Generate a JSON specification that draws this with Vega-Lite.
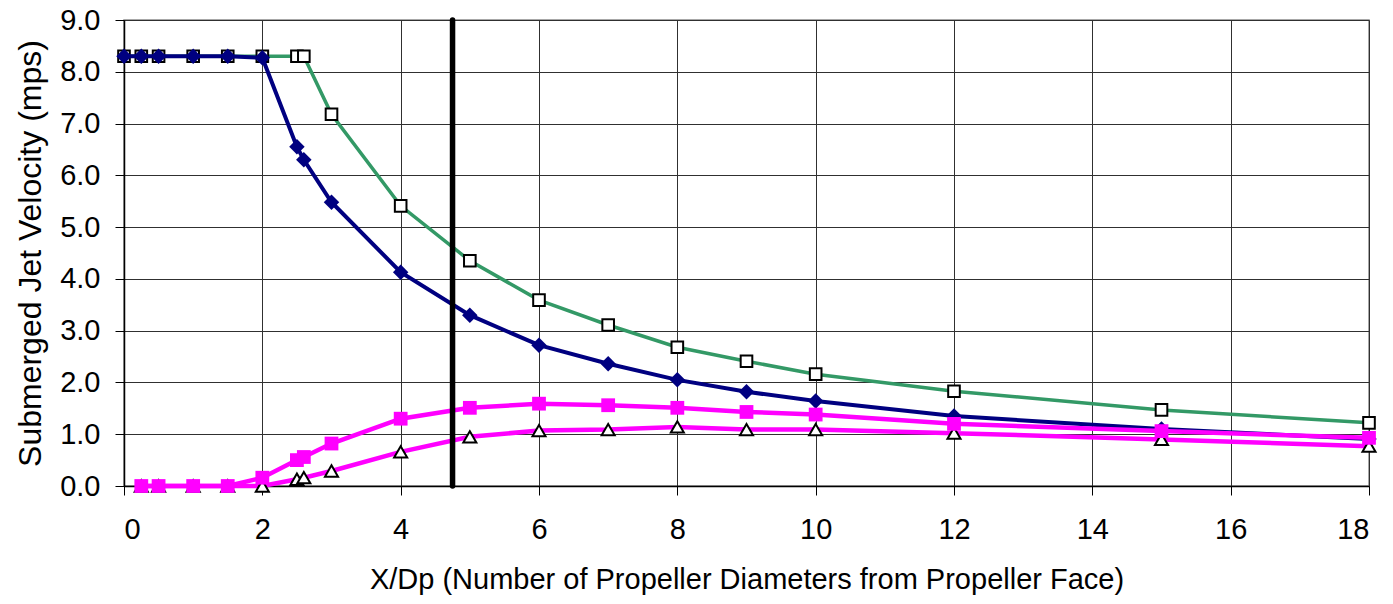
{
  "$schema": "https://vega.github.io/schema/vega-lite/v6.json",
  "width": 1245,
  "height": 466,
  "autosize": {"type": "none"},
  "padding": {"left": 124, "top": 20, "right": 24, "bottom": 118},
  "background": "white",
  "config": {
    "view": {"stroke": "#8a8a8a", "strokeWidth": 1.5},
    "font": "Liberation Sans",
    "axis": {
      "labelFont": "Liberation Sans",
      "titleFont": "Liberation Sans",
      "labelFontSize": 29,
      "titleFontSize": 29,
      "labelColor": "#000",
      "titleColor": "#000",
      "titleFontWeight": "normal",
      "domainColor": "#000",
      "domainWidth": 1.5,
      "tickColor": "#000",
      "tickWidth": 1,
      "tickSize": 9,
      "gridColor": "#303030",
      "gridWidth": 1
    }
  },
  "datasets": {
    "d": [
      {"x": 0, "y": 8.3, "s": "G"}, {"x": 0.25, "y": 8.3, "s": "G"}, {"x": 0.5, "y": 8.3, "s": "G"}, {"x": 1, "y": 8.3, "s": "G"}, {"x": 1.5, "y": 8.3, "s": "G"}, {"x": 2, "y": 8.3, "s": "G"}, {"x": 2.5, "y": 8.3, "s": "G"}, {"x": 2.6, "y": 8.3, "s": "G"}, {"x": 3, "y": 7.18, "s": "G"}, {"x": 4, "y": 5.41, "s": "G"}, {"x": 5, "y": 4.35, "s": "G"}, {"x": 6, "y": 3.59, "s": "G"}, {"x": 7, "y": 3.11, "s": "G"}, {"x": 8, "y": 2.68, "s": "G"}, {"x": 9, "y": 2.41, "s": "G"}, {"x": 10, "y": 2.16, "s": "G"}, {"x": 12, "y": 1.83, "s": "G"}, {"x": 15, "y": 1.47, "s": "G"}, {"x": 18, "y": 1.22, "s": "G"},
      {"x": 0, "y": 8.3, "s": "B"}, {"x": 0.25, "y": 8.3, "s": "B"}, {"x": 0.5, "y": 8.3, "s": "B"}, {"x": 1, "y": 8.3, "s": "B"}, {"x": 1.5, "y": 8.3, "s": "B"}, {"x": 2, "y": 8.27, "s": "B"}, {"x": 2.5, "y": 6.55, "s": "B"}, {"x": 2.6, "y": 6.3, "s": "B"}, {"x": 3, "y": 5.48, "s": "B"}, {"x": 4, "y": 4.13, "s": "B"}, {"x": 5, "y": 3.3, "s": "B"}, {"x": 6, "y": 2.72, "s": "B"}, {"x": 7, "y": 2.36, "s": "B"}, {"x": 8, "y": 2.05, "s": "B"}, {"x": 9, "y": 1.82, "s": "B"}, {"x": 10, "y": 1.64, "s": "B"}, {"x": 12, "y": 1.35, "s": "B"}, {"x": 15, "y": 1.1, "s": "B"}, {"x": 18, "y": 0.91, "s": "B"},
      {"x": 0.25, "y": 0, "s": "T"}, {"x": 0.5, "y": 0, "s": "T"}, {"x": 1, "y": 0, "s": "T"}, {"x": 1.5, "y": 0, "s": "T"}, {"x": 2, "y": 0, "s": "T"}, {"x": 2.5, "y": 0.13, "s": "T"}, {"x": 2.6, "y": 0.16, "s": "T"}, {"x": 3, "y": 0.29, "s": "T"}, {"x": 4, "y": 0.66, "s": "T"}, {"x": 5, "y": 0.95, "s": "T"}, {"x": 6, "y": 1.07, "s": "T"}, {"x": 7, "y": 1.09, "s": "T"}, {"x": 8, "y": 1.14, "s": "T"}, {"x": 9, "y": 1.09, "s": "T"}, {"x": 10, "y": 1.09, "s": "T"}, {"x": 12, "y": 1.02, "s": "T"}, {"x": 15, "y": 0.9, "s": "T"}, {"x": 18, "y": 0.77, "s": "T"},
      {"x": 0.25, "y": 0, "s": "M"}, {"x": 0.5, "y": 0, "s": "M"}, {"x": 1, "y": 0, "s": "M"}, {"x": 1.5, "y": 0, "s": "M"}, {"x": 2, "y": 0.16, "s": "M"}, {"x": 2.5, "y": 0.5, "s": "M"}, {"x": 2.6, "y": 0.56, "s": "M"}, {"x": 3, "y": 0.82, "s": "M"}, {"x": 4, "y": 1.3, "s": "M"}, {"x": 5, "y": 1.51, "s": "M"}, {"x": 6, "y": 1.59, "s": "M"}, {"x": 7, "y": 1.56, "s": "M"}, {"x": 8, "y": 1.51, "s": "M"}, {"x": 9, "y": 1.43, "s": "M"}, {"x": 10, "y": 1.38, "s": "M"}, {"x": 12, "y": 1.2, "s": "M"}, {"x": 15, "y": 1.06, "s": "M"}, {"x": 18, "y": 0.93, "s": "M"}
    ],
    "r": [{"x": 4.75, "y": 0, "y2": 9}]
  },
  "data": {"name": "d"},
  "encoding": {
    "x": {
      "field": "x", "type": "quantitative",
      "scale": {"domain": [0, 18], "nice": false, "zero": false},
      "axis": {"values": [0, 2, 4, 6, 8, 10, 12, 14, 16, 18], "grid": true, "labelPadding": 20, "titlePadding": 21, "title": "X/Dp (Number of Propeller Diameters from Propeller Face)"}
    },
    "y": {
      "field": "y", "type": "quantitative",
      "scale": {"domain": [0, 9], "nice": false},
      "axis": {"values": [0, 1, 2, 3, 4, 5, 6, 7, 8, 9], "format": ".1f", "grid": true, "labelPadding": 15, "titlePadding": 12, "titleFontSize": 32, "title": "Submerged Jet Velocity (mps)"}
    }
  },
  "layer": [
    {"transform": [{"filter": "datum.s === 'G'"}], "mark": {"type": "line", "color": "#339966", "strokeWidth": 3.5}},
    {"transform": [{"filter": "datum.s === 'G'"}], "mark": {"type": "point", "shape": "square", "size": 135, "filled": true, "fill": "white", "stroke": "black", "strokeWidth": 2, "opacity": 1}},
    {"transform": [{"filter": "datum.s === 'B'"}], "mark": {"type": "line", "color": "#000080", "strokeWidth": 4}},
    {"transform": [{"filter": "datum.s === 'B'"}], "mark": {"type": "point", "shape": "diamond", "size": 240, "filled": true, "color": "#000080", "opacity": 1}},
    {"transform": [{"filter": "datum.s === 'T'"}], "mark": {"type": "line", "color": "#ff00ff", "strokeWidth": 4.5}},
    {"transform": [{"filter": "datum.s === 'T'"}], "mark": {"type": "point", "shape": "triangle-up", "size": 170, "filled": true, "fill": "white", "stroke": "black", "strokeWidth": 2, "opacity": 1}},
    {"transform": [{"filter": "datum.s === 'M'"}], "mark": {"type": "line", "color": "#ff00ff", "strokeWidth": 4.5}},
    {"transform": [{"filter": "datum.s === 'M'"}], "mark": {"type": "point", "shape": "square", "size": 190, "filled": true, "color": "#ff00ff", "opacity": 1}},
    {"data": {"name": "r"}, "mark": {"type": "rule", "color": "black", "strokeWidth": 5.5, "strokeCap": "round"}, "encoding": {"y2": {"field": "y2"}}}
  ]
}
